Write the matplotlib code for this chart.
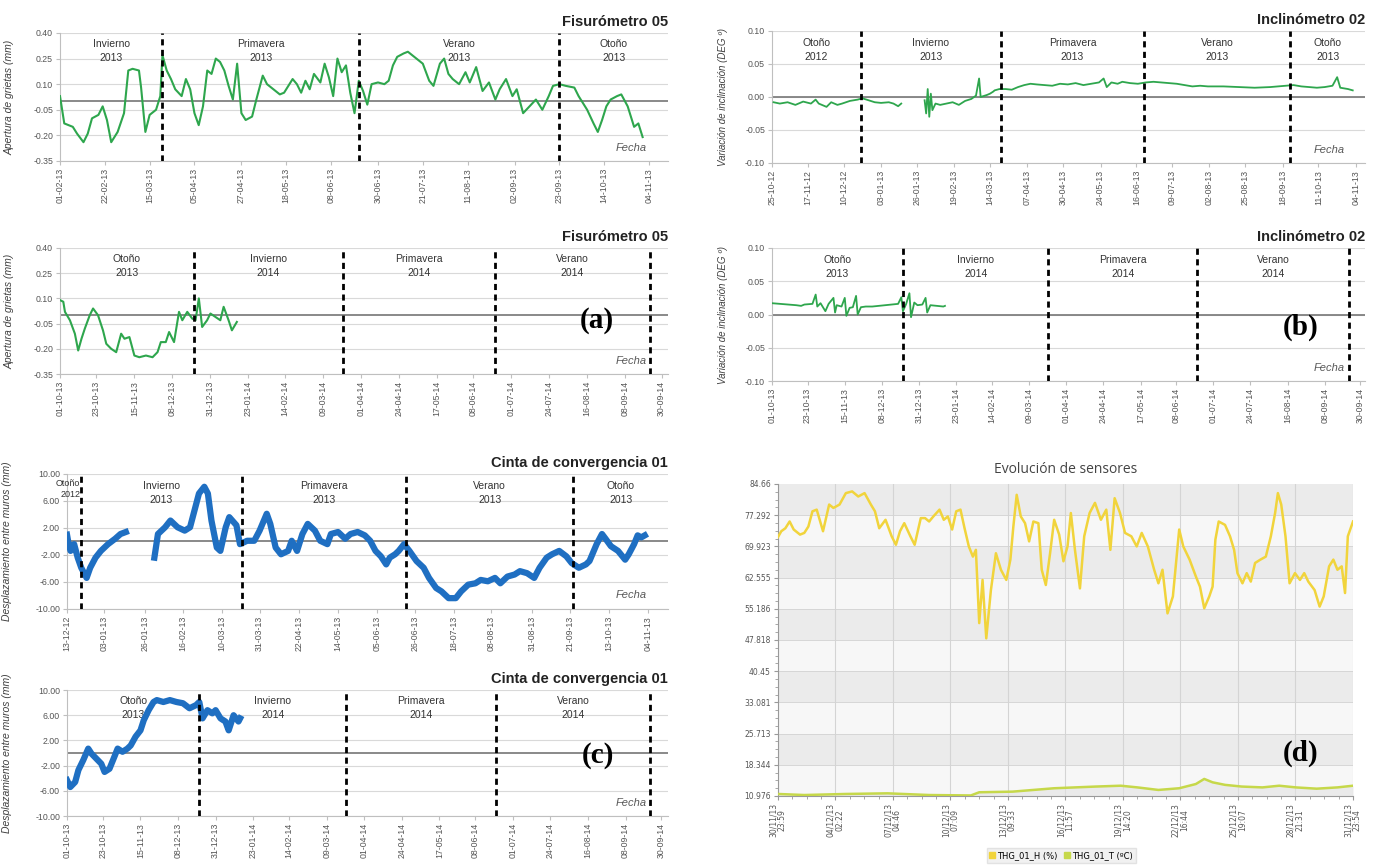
import matplotlib
matplotlib.use("Agg")
import matplotlib.pyplot as plt
import matplotlib.transforms as mtransforms
from matplotlib.lines import Line2D
from matplotlib.ticker import AutoMinorLocator
import numpy as np
import pandas as pd

plt.rcParams["axes.unicode_minus"] = False

NARROW = ["Liberation Sans Narrow", "Liberation Sans", "DejaVu Sans"]
GREEN = "#2ea64d"
BLUE = "#1f6fc2"
YELLOW = "#f1d43c"
LIME = "#c6d84a"

# ---- Fisurómetro 05 (feb-nov 2013), days since 01-02-2013 ----
fis1_start = "2013-02-01"
fis1_days = [0, 2, 6, 8, 11, 13, 15, 18, 20, 22,
             24, 27, 30, 32, 34, 37, 38, 40, 42, 45,
             47, 48, 50, 52, 54, 57, 59, 61, 63, 65,
             67, 69, 71, 73, 75, 77, 79, 81, 83, 85,
             87, 90, 92, 95, 97, 100, 103, 105, 109, 111,
             113, 115, 117, 119, 122, 124, 126, 128, 130, 132,
             134, 136, 138, 140, 142, 144, 146, 149, 152, 154,
             156, 158, 161, 163, 165, 167, 170, 173, 175, 178,
             180, 182, 184, 187, 190, 192, 195, 198, 201, 204,
             206, 209, 212, 214, 217, 220, 223, 226, 229, 231,
             234, 237, 241, 243, 247, 250, 252, 254, 256, 258,
             261, 263, 266, 269, 271, 273]
fis1_vals = [0.03, -0.13, -0.15, -0.19, -0.24, -0.19, -0.10, -0.08, -0.03, -0.11,
             -0.24, -0.18, -0.07, 0.18, 0.19, 0.18, 0.08, -0.18, -0.08, -0.05,
             0.03, 0.27, 0.18, 0.13, 0.07, 0.03, 0.13, 0.07, -0.07, -0.14,
             -0.03, 0.18, 0.16, 0.25, 0.23, 0.18, 0.09, 0.01, 0.22, -0.07,
             -0.11, -0.09, 0.01, 0.15, 0.10, 0.07, 0.04, 0.05, 0.13, 0.10,
             0.05, 0.12, 0.07, 0.16, 0.11, 0.22, 0.14, 0.03, 0.25, 0.17,
             0.21, 0.05, -0.07, 0.12, 0.06, -0.02, 0.10, 0.11, 0.10, 0.12,
             0.21, 0.26, 0.28, 0.29, 0.27, 0.25, 0.22, 0.12, 0.09, 0.22,
             0.25, 0.16, 0.13, 0.10, 0.17, 0.11, 0.20, 0.06, 0.11, 0.01,
             0.07, 0.13, 0.03, 0.07, -0.07, -0.03, 0.01, -0.05, 0.03, 0.09,
             0.10, 0.09, 0.08, 0.03, -0.05, -0.13, -0.18, -0.11, -0.03, 0.01,
             0.03, 0.04, -0.03, -0.15, -0.13, -0.21]

# ---- Fisurómetro 05 (oct 2013 - ene 2014) ----
fis2_start = "2013-10-01"
fis2_days = [0, 2, 3, 6, 9, 11, 13, 15, 18, 20,
             23, 26, 28, 31, 34, 37, 39, 42, 45, 48,
             52, 56, 59, 61, 64, 66, 69, 72, 74, 77,
             80, 82, 84, 86, 89, 91, 94, 97, 99, 102,
             104, 107]
fis2_vals = [0.09, 0.08, 0.02, -0.03, -0.11, -0.21, -0.14, -0.08, 0.00, 0.04,
             0.00, -0.09, -0.17, -0.20, -0.22, -0.11, -0.14, -0.13, -0.24, -0.25,
             -0.24, -0.25, -0.22, -0.16, -0.16, -0.10, -0.16, 0.02, -0.03, 0.02,
             -0.02, -0.03, 0.10, -0.07, -0.03, 0.01, -0.01, -0.03, 0.05, -0.03,
             -0.09, -0.04]

# ---- Inclinómetro 02 (oct 2012 - nov 2013) ----
inc1_start = "2012-10-25"
inc1_days = [1, 5, 10, 15, 20, 25, 28, 30, 35, 38,
             42, 45, 50, 55, 58, 62, 66, 70, 75, 78,
             81, 83, 84, 98, 99, 100, 101, 102, 103, 105,
             108, 112, 116, 120, 124, 128, 131, 133, 134, 138,
             140, 142, 143, 146, 150, 154, 158, 162, 166, 170,
             175, 180, 185, 190, 195, 200, 205, 210, 213, 215,
             218, 222, 225, 230, 235, 240, 245, 250, 255, 260,
             265, 270, 275, 280, 290, 300, 310, 320, 330, 335,
             340, 345, 350, 355, 360, 363, 365, 370, 373]
inc1_vals = [-0.008, -0.010, -0.008, -0.012, -0.007, -0.010, -0.004, -0.010, -0.015, -0.008,
             -0.012, -0.010, -0.006, -0.004, -0.002, -0.005, -0.008, -0.009, -0.008, -0.010,
             -0.014, -0.010, np.nan, -0.005, -0.025, 0.012, -0.030, 0.005, -0.020, -0.010,
             -0.012, -0.010, -0.008, -0.012, -0.006, -0.003, 0.002, 0.028, 0.000, 0.003,
             0.005, 0.008, 0.010, 0.012, 0.012, 0.011, 0.015, 0.018, 0.020, 0.019,
             0.018, 0.017, 0.020, 0.019, 0.021, 0.018, 0.020, 0.022, 0.028, 0.015,
             0.022, 0.020, 0.023, 0.021, 0.020, 0.022, 0.023, 0.022, 0.021, 0.020,
             0.018, 0.016, 0.017, 0.016, 0.016, 0.015, 0.014, 0.015, 0.017, 0.018,
             0.016, 0.015, 0.014, 0.015, 0.017, 0.030, 0.014, 0.012, 0.010]

# ---- Inclinómetro 02 (oct 2013 - ene 2014) ----
inc2_start = "2013-10-01"
inc2_days = [0, 5, 10, 15, 18, 20, 25, 27, 28, 30,
             33, 35, 38, 39, 40, 43, 45, 46, 48, 50,
             52, 53, 55, 58, 62, 66, 70, 74, 78, 80,
             81, 83, 85, 86, 88, 90, 93, 95, 96, 98,
             102, 106, 107]
inc2_vals = [0.017, 0.016, 0.015, 0.014, 0.013, 0.015, 0.016, 0.030, 0.012, 0.017,
             0.005, 0.016, 0.025, 0.003, 0.014, 0.012, 0.025, -0.002, 0.010, 0.011,
             0.028, 0.000, 0.011, 0.012, 0.012, 0.013, 0.014, 0.015, 0.016, 0.026,
             0.005, 0.016, 0.032, -0.004, 0.018, 0.014, 0.015, 0.025, 0.003, 0.014,
             0.013, 0.012, 0.013]

# ---- Cinta de convergencia 01 (dic 2012 - nov 2013) ----
cin1_start = "2012-12-13"
cin1_days = [0, 1, 2, 4, 6, 8, 11, 13, 16, 19,
             23, 27, 30, 33, 34, 49, 51, 55, 58, 62,
             66, 69, 72, 74, 77, 79, 81, 84, 86, 89,
             91, 95, 97, 101, 105, 108, 112, 114, 117, 120,
             124, 126, 129, 132, 135, 139, 142, 146, 148, 152,
             156, 159, 163, 167, 170, 173, 176, 179, 181, 184,
             186, 189, 192, 196, 200, 203, 207, 210, 214, 218,
             221, 225, 229, 232, 236, 240, 243, 247, 251, 254,
             258, 262, 265, 269, 272, 276, 280, 283, 287, 291,
             293, 297, 300, 302, 305, 309, 313, 315, 318, 320,
             322, 324]
cin1_vals = [1.0, -0.5, -1.4, -0.4, -2.4, -3.9, -5.4, -3.9, -2.4, -1.4,
             -0.4, 0.4, 1.1, 1.4, np.nan, -2.4, 1.1, 2.1, 3.1, 2.1,
             1.6, 2.1, 5.1, 7.1, 8.1, 7.1, 3.1, -0.9, -1.4, 2.1,
             3.6, 2.4, -0.4, 0.1, 0.1, 1.6, 4.1, 2.6, -0.9, -1.9,
             -1.4, 0.1, -1.4, 1.1, 2.6, 1.6, 0.1, -0.4, 1.1, 1.4,
             0.4, 1.1, 1.4, 0.9, 0.1, -1.4, -2.2, -3.4, -2.4, -1.9,
             -1.4, -0.4, -1.4, -2.9, -3.9, -5.4, -6.9, -7.4, -8.4, -8.4,
             -7.4, -6.4, -6.2, -5.7, -5.9, -5.4, -6.2, -5.2, -4.9, -4.4,
             -4.7, -5.4, -3.9, -2.4, -1.9, -1.4, -2.2, -3.2, -3.9, -3.4,
             -2.9, -0.4, 1.1, 0.4, -0.7, -1.4, -2.7, -1.9, -0.4, 0.9,
             0.6, 0.9]

# ---- Cinta de convergencia 01 (oct 2013 - ene 2014) ----
cin2_start = "2013-10-01"
cin2_days = [0, 2, 5, 7, 10, 13, 15, 18, 21, 23,
             26, 29, 31, 34, 37, 39, 42, 45, 47, 50,
             53, 55, 59, 63, 67, 71, 75, 79, 81, 83,
             86, 89, 91, 94, 97, 99, 102, 105, 106]
cin2_vals = [-4.3, -5.4, -4.6, -2.7, -1.1, 0.7, -0.1, -0.9, -1.7, -3.0,
             -2.5, -0.6, 0.7, 0.2, 0.7, 1.2, 2.6, 3.6, 5.2, 6.8,
             8.1, 8.4, 8.1, 8.4, 8.1, 7.9, 7.1, 7.6, 8.1, 5.5,
             6.8, 6.3, 6.8, 5.5, 5.0, 3.6, 6.0, 5.0, 5.5]

# ---- Evolución de sensores (dic 2013), days since 30/11/13 23:59 ----
sens_start = "2013-11-30 23:59"
hum_days = [0.0, 0.18, 0.40, 0.63, 0.85, 1.19, 1.42, 1.64, 1.86, 2.09,
            2.43, 2.76, 2.99, 3.32, 3.66, 4.00, 4.33, 4.67, 5.01, 5.23,
            5.46, 5.80, 6.13, 6.36, 6.58, 6.81, 7.14, 7.37, 7.70, 7.93,
            8.15, 8.38, 8.71, 8.94, 9.16, 9.39, 9.61, 9.84, 10.06, 10.29,
            10.51, 10.67, 10.85, 11.03, 11.23, 11.48, 11.75, 12.02, 12.31, 12.53,
            12.69, 12.87, 13.09, 13.32, 13.54, 13.77, 14.04, 14.22, 14.44, 14.67,
            14.89, 15.16, 15.39, 15.61, 15.79, 16.01, 16.28, 16.51, 16.80, 17.09,
            17.41, 17.70, 17.92, 18.15, 18.44, 18.71, 19.05, 19.34, 19.61, 19.94,
            20.28, 20.51, 20.73, 21.00, 21.29, 21.63, 21.85, 22.19, 22.53, 22.75,
            22.98, 23.25, 23.43, 23.58, 23.76, 24.10, 24.37, 24.59, 24.77, 25.04,
            25.27, 25.49, 25.72, 26.01, 26.30, 26.57, 26.80, 26.95, 27.13, 27.36,
            27.58, 27.87, 28.14, 28.37, 28.59, 28.93, 29.20, 29.42, 29.71, 29.94,
            30.16, 30.39, 30.57, 30.72, 31.0]
hum_vals = [72.1, 73.5, 74.2, 75.8, 73.9, 72.7, 73.1, 74.6, 78.2, 78.6,
            73.5, 79.8, 79.0, 79.8, 82.5, 82.9, 81.7, 82.5, 79.8, 78.2,
            74.2, 76.2, 72.3, 70.3, 73.5, 75.4, 72.3, 70.3, 76.6, 76.6,
            75.8, 77.0, 78.6, 76.2, 77.0, 73.9, 78.2, 78.6, 74.2, 69.9,
            67.5, 69.1, 51.8, 62.0, 48.2, 59.6, 68.3, 64.4, 62.0, 66.8,
            74.6, 82.1, 77.0, 75.4, 71.1, 75.8, 75.4, 64.4, 60.8, 68.3,
            76.2, 72.7, 66.4, 69.9, 77.8, 69.1, 60.0, 72.3, 77.8, 80.2,
            76.2, 78.6, 69.1, 81.3, 77.8, 73.1, 72.3, 69.9, 73.1, 69.9,
            64.4, 61.2, 64.4, 54.1, 58.1, 73.9, 69.9, 66.8, 62.8, 60.4,
            55.3, 58.1, 60.4, 71.5, 75.8, 75.0, 72.3, 69.1, 63.6, 61.2,
            63.6, 61.6, 66.0, 66.8, 67.5, 72.3, 77.8, 82.5, 79.8, 72.3,
            61.2, 63.6, 62.0, 63.6, 61.6, 59.6, 55.7, 58.1, 65.2, 66.8,
            64.4, 65.2, 58.9, 72.3, 75.8]
temp_days = [0.0, 1.42, 3.66, 5.91, 8.15, 10.40, 10.85, 12.65, 14.89, 17.14,
             18.48, 19.38, 20.51, 21.63, 22.53, 22.98, 23.43, 24.10, 25.00, 26.12,
             27.02, 27.92, 29.04, 30.16, 31.0]
temp_vals = [11.45, 11.2, 11.45, 11.6, 11.2, 11.1, 11.85, 12.0, 12.8, 13.2,
             13.4, 13.0, 12.4, 12.8, 13.8, 15.0, 14.2, 13.6, 13.2, 13.0,
             13.4, 13.0, 12.7, 13.0, 13.4]

# ---- axis ticks and seasons ----
ticks_fis1 = ["01-02-13", "22-02-13", "15-03-13", "05-04-13", "27-04-13", "18-05-13", "08-06-13",
              "30-06-13", "21-07-13", "11-08-13", "02-09-13", "23-09-13", "14-10-13", "04-11-13"]
ticks_inc1 = ["25-10-12", "17-11-12", "10-12-12", "03-01-13", "26-01-13", "19-02-13", "14-03-13",
              "07-04-13", "30-04-13", "24-05-13", "16-06-13", "09-07-13", "02-08-13", "25-08-13",
              "18-09-13", "11-10-13", "04-11-13"]
ticks_cin1 = ["13-12-12", "03-01-13", "26-01-13", "16-02-13", "10-03-13", "31-03-13", "22-04-13",
              "14-05-13", "05-06-13", "26-06-13", "18-07-13", "08-08-13", "31-08-13", "21-09-13",
              "13-10-13", "04-11-13"]
ticks_year2 = ["01-10-13", "23-10-13", "15-11-13", "08-12-13", "31-12-13", "23-01-14", "14-02-14",
               "09-03-14", "01-04-14", "24-04-14", "17-05-14", "08-06-14", "01-07-14", "24-07-14",
               "16-08-14", "08-09-14", "30-09-14"]
ticks_sens = ["30/11/13\n23:59", "04/12/13\n02:22", "07/12/13\n04:46", "10/12/13\n07:09",
              "13/12/13\n09:33", "16/12/13\n11:57", "19/12/13\n14:20", "22/12/13\n16:44",
              "25/12/13\n19:07", "28/12/13\n21:31", "31/12/13\n23:54"]

div_2013 = ["21-03-13", "21-06-13", "23-09-13"]
div_2012_13 = ["21-12-12", "21-03-13", "21-06-13", "23-09-13"]
div_2013_14 = ["21-12-13", "21-03-14", "21-06-14", "23-09-14"]
seasons_2013 = ["Invierno\n2013", "Primavera\n2013", "Verano\n2013", "Otoño\n2013"]
seasons_2012_13 = ["Otoño\n2012", "Invierno\n2013", "Primavera\n2013", "Verano\n2013", "Otoño\n2013"]
seasons_2013_14 = ["Otoño\n2013", "Invierno\n2014", "Primavera\n2014", "Verano\n2014"]

yt_fis = [0.40, 0.25, 0.10, -0.05, -0.20, -0.35]
yt_inc = [0.10, 0.05, 0.00, -0.05, -0.10]
yt_cin = [10.0, 6.0, 2.0, -2.0, -6.0, -10.0]
yt_sens = ["84.66", "77.292", "69.923", "62.555", "55.186", "47.818", "40.45",
           "33.081", "25.713", "18.344", "10.976"]


def to_dates(start, days):
    return pd.Timestamp(start) + pd.to_timedelta(np.asarray(days, dtype=float), unit="D")


def excel_panel(fig, rect, title, ylabel, tick_labels, yticks, pad_days, dividers, seasons,
                ylab_x, ylab_size):
    ax = fig.add_axes(rect)
    tick_dates = pd.to_datetime(tick_labels, format="%d-%m-%y")
    x0 = tick_dates[0]
    x1 = tick_dates[-1] + pd.Timedelta(days=pad_days)
    ax.set_xlim(x0, x1)
    ax.set_ylim(yticks[-1], yticks[0])
    for y in yticks:
        ax.axhline(y, color="#d9d9d9", lw=0.8, zorder=0)
    ax.axhline(0, color="#808080", lw=1.3, zorder=1)
    ax.set_xticks(tick_dates)
    ax.set_xticklabels(tick_labels, rotation=90, fontsize=6.3, color="#555555", family=NARROW)
    ax.set_yticks(yticks)
    ax.set_yticklabels([f"{v:.2f}" for v in yticks], fontsize=6.3, color="#555555", family=NARROW)
    ax.tick_params(length=3, color="#bfbfbf", pad=2)
    for side in ("top", "right"):
        ax.spines[side].set_visible(False)
    for side in ("left", "bottom"):
        ax.spines[side].set_color("#bfbfbf")
    ax.set_ylabel(ylabel, fontsize=ylab_size, style="italic", color="#404040", family=NARROW)
    ax.yaxis.set_label_coords(ylab_x, 0.5)
    ax.set_title(title, loc="right", fontsize=10.5, fontweight="bold", color="#222222",
                 family=NARROW, pad=5)

    div_dates = pd.to_datetime(dividers, format="%d-%m-%y")
    for d in div_dates:
        ax.axvline(d, color="black", lw=2, ls=(0, (2.2, 1.6)), zorder=4)
    trans = mtransforms.blended_transform_factory(ax.transData, ax.transAxes)
    edges = [x0] + list(div_dates) + [x1]
    for a, b, label in zip(edges[:-1], edges[1:], seasons):
        if (b - a).days < 20:
            # narrow first season: squeeze the label just left of the divider
            ax.text(b - pd.Timedelta(days=0.6), 0.965, label, transform=trans, ha="right", va="top",
                    fontsize=6.5, color="#333333", family=NARROW, linespacing=1.3)
        else:
            ax.text(a + (b - a) / 2, 0.95, label, transform=trans, ha="center", va="top",
                    fontsize=7.5, color="#333333", family=NARROW, linespacing=1.5)
    ax.text(0.965, 0.1, "Fecha", transform=ax.transAxes, ha="right", va="center",
            fontsize=8, style="italic", color="#595959", family=NARROW)
    return ax


fig = plt.figure(figsize=(13.73, 8.65), dpi=100)

# (a) Fisurómetro 05
ax = excel_panel(fig, [0.0437, 0.8139, 0.4430, 0.1480], "Fisurómetro 05", "Apertura de grietas (mm)",
                 ticks_fis1, yt_fis, 9, div_2013, seasons_2013, -0.074, 7.5)
ax.plot(to_dates(fis1_start, fis1_days), fis1_vals, color=GREEN, lw=1.5, zorder=3)

ax = excel_panel(fig, [0.0437, 0.5676, 0.4430, 0.1457], "Fisurómetro 05", "Apertura de grietas (mm)",
                 ticks_year2, yt_fis, 4, div_2013_14, seasons_2013_14, -0.074, 7.5)
ax.plot(to_dates(fis2_start, fis2_days), fis2_vals, color=GREEN, lw=1.5, zorder=3)

# (b) Inclinómetro 02
ax = excel_panel(fig, [0.5623, 0.8116, 0.4320, 0.1526], "Inclinómetro 02", "Variación de inclinación (DEG º)",
                 ticks_inc1, yt_inc, 6, div_2012_13, seasons_2012_13, -0.074, 7)
ax.plot(to_dates(inc1_start, inc1_days), inc1_vals, color=GREEN, lw=1.3, zorder=3)

ax = excel_panel(fig, [0.5623, 0.5595, 0.4320, 0.1538], "Inclinómetro 02", "Variación de inclinación (DEG º)",
                 ticks_year2, yt_inc, 3, div_2013_14, seasons_2013_14, -0.074, 7)
ax.plot(to_dates(inc2_start, inc2_days), inc2_vals, color=GREEN, lw=1.3, zorder=3)

# (c) Cinta de convergencia 01
ax = excel_panel(fig, [0.0488, 0.2960, 0.4377, 0.1561], "Cinta de convergencia 01", "Desplazamiento entre muros (mm)",
                 ticks_cin1, yt_cin, 11, div_2012_13, seasons_2012_13, -0.092, 7.5)
ax.plot(to_dates(cin1_start, cin1_days), cin1_vals, color=BLUE, lw=4.5, zorder=3, solid_joinstyle="round")

ax = excel_panel(fig, [0.0488, 0.0566, 0.4377, 0.1457], "Cinta de convergencia 01", "Desplazamiento entre muros (mm)",
                 ticks_year2, yt_cin, 4, div_2013_14, seasons_2013_14, -0.092, 7.5)
ax.plot(to_dates(cin2_start, cin2_days), cin2_vals, color=BLUE, lw=4.5, zorder=3, solid_joinstyle="round")

# (d) Evolución de sensores
axd = fig.add_axes([0.5666, 0.0798, 0.4188, 0.3607])
sens_ticks = pd.to_datetime(ticks_sens, format="%d/%m/%y\n%H:%M")
ylev = [float(v) for v in yt_sens][::-1]
axd.set_xlim(sens_ticks[0], sens_ticks[-1])
axd.set_ylim(ylev[0], ylev[-1])
for i in range(len(ylev) - 1):
    axd.axhspan(ylev[i], ylev[i + 1], color="#ebebeb" if i % 2 else "#f7f7f7", lw=0, zorder=0)
    axd.axhline(ylev[i], color="#d6d6d6", lw=0.7, zorder=0.5)
for t in sens_ticks:
    axd.axvline(t, color="#d4d4d4", lw=0.8, zorder=0.5)
temp_x = to_dates(sens_start, temp_days)
axd.fill_between(temp_x, ylev[0], temp_vals, color="#e2e2e2", alpha=0.6, lw=0, zorder=1)
axd.plot(to_dates(sens_start, hum_days), hum_vals, color=YELLOW, lw=1.8, zorder=3)
axd.plot(temp_x, temp_vals, color=LIME, lw=1.8, zorder=3)
axd.set_xticks(sens_ticks)
axd.set_xticklabels(ticks_sens, rotation=90, fontsize=5.5, color="#555555", linespacing=1.0)
axd.set_yticks(ylev)
axd.set_yticklabels(yt_sens[::-1], fontsize=5.5, color="#555555")
axd.xaxis.set_minor_locator(AutoMinorLocator(4))
axd.yaxis.set_minor_locator(AutoMinorLocator(4))
axd.tick_params(which="both", color="#999999", length=3, pad=2)
axd.tick_params(which="minor", length=2)
for side in ("top", "right"):
    axd.spines[side].set_visible(False)
for side in ("left", "bottom"):
    axd.spines[side].set_color("#999999")
axd.set_title("Evolución de sensores", fontsize=10, color="#444444", pad=8, family="Open Sans")
handles = [Line2D([], [], marker="s", ls="none", color=YELLOW, markersize=4),
           Line2D([], [], marker="s", ls="none", color=LIME, markersize=4)]
fig.legend(handles, ["THG_01_H (%)", "THG_01_T (ºC)"], loc="center", bbox_to_anchor=(0.773, 0.011),
           ncol=2, fontsize=6, frameon=True, facecolor="#eeeeee", edgecolor="#dddddd",
           handlelength=0.6, handletextpad=0.3, columnspacing=0.8, borderpad=0.35, fancybox=False)

# panel letters
for x, y, letter in [(0.435, 0.630, "(a)"), (0.947, 0.622, "(b)"), (0.4355, 0.127, "(c)"), (0.947, 0.129, "(d)")]:
    fig.text(x, y, letter, ha="center", va="center", fontsize=21, fontweight="bold",
             family="Liberation Serif")

fig.savefig("out.png", dpi=100)
